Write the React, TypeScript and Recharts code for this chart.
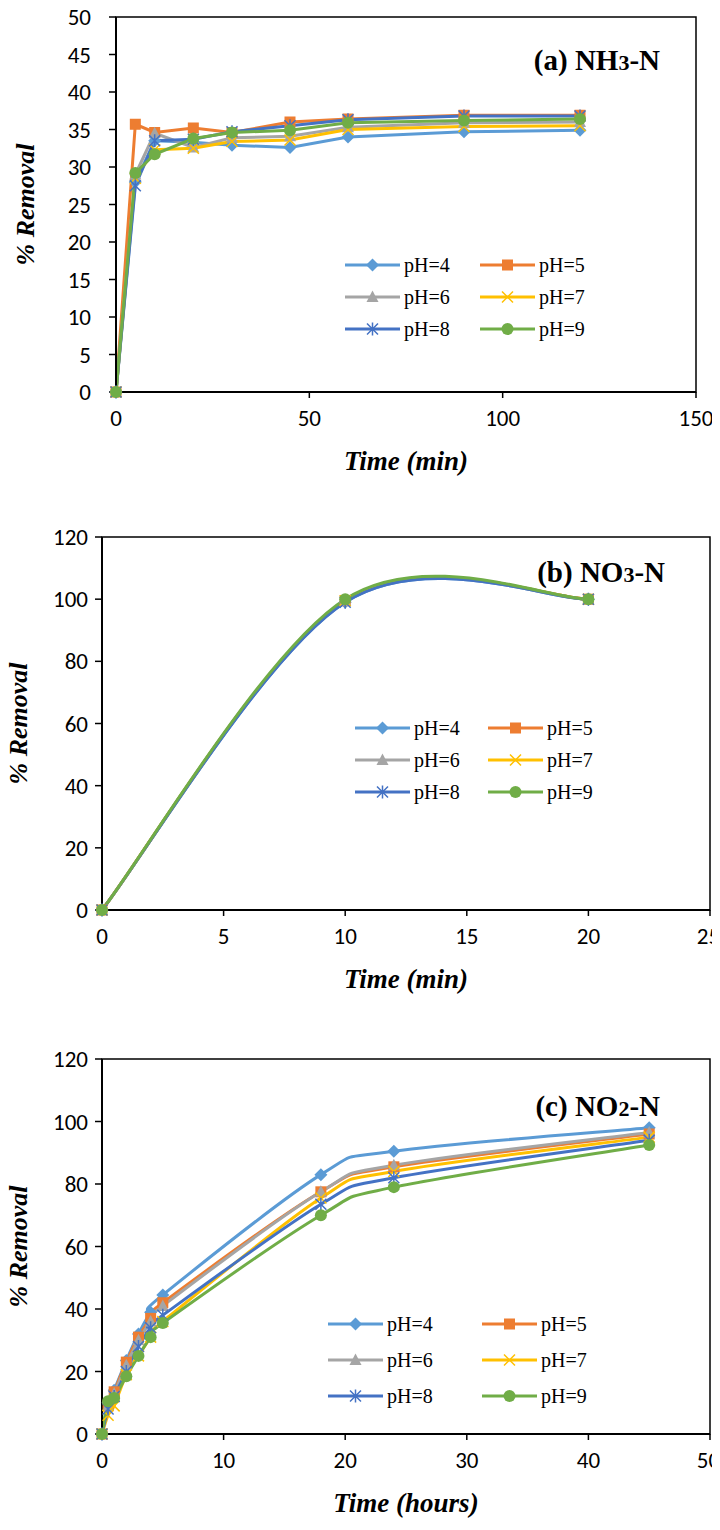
import React from 'react';
import { LineChart, Line, XAxis, YAxis, ReferenceArea, Legend } from 'recharts';

const phNames = ['pH=4', 'pH=5', 'pH=6', 'pH=7', 'pH=8', 'pH=9'];
const phColors = ['#5B9BD5', '#ED7D31', '#A5A5A5', '#FFC000', '#4472C4', '#70AD47'];
const phShapes = ['diamond', 'square', 'triangle', 'x', 'star', 'circle'];

// (a) NH3-N, time in min
const timeA = [0, 5, 10, 20, 30, 45, 60, 90, 120];
const nh3Ph4 = [0, 28, 33.5, 33.3, 32.9, 32.6, 34.0, 34.7, 34.9];
const nh3Ph5 = [0, 35.7, 34.6, 35.2, 34.6, 36.0, 36.4, 36.9, 36.9];
const nh3Ph6 = [0, 29, 34.5, 32.6, 33.9, 34.1, 35.3, 35.9, 36.0];
const nh3Ph7 = [0, 28.5, 32.3, 32.5, 33.4, 33.6, 35.0, 35.4, 35.5];
const nh3Ph8 = [0, 27.5, 33.5, 33.7, 34.7, 35.5, 36.3, 36.8, 36.8];
const nh3Ph9 = [0, 29.2, 31.7, 33.8, 34.6, 34.9, 35.9, 36.2, 36.4];

// (b) NO3-N, time in min
const timeB = [0, 10, 20];
const no3Ph4 = [0, 99, 100];
const no3Ph5 = [0, 99.5, 100];
const no3Ph6 = [0, 99.5, 100];
const no3Ph7 = [0, 99.5, 100];
const no3Ph8 = [0, 99, 100];
const no3Ph9 = [0, 100, 100];

// (c) NO2-N, time in hours
const timeC = [0, 0.5, 1, 2, 3, 4, 5, 18, 24, 45];
const no2Ph4 = [0, 10, 14, 23.5, 32, 39, 44.5, 83, 90.5, 98];
const no2Ph5 = [0, 9, 13.5, 23, 31, 37, 42, 77.5, 85.5, 96];
const no2Ph6 = [0, 9, 13, 22, 30, 36, 41, 77.5, 86, 96.5];
const no2Ph7 = [0, 6, 9, 19, 25, 31, 36, 75.5, 84, 95];
const no2Ph8 = [0, 8, 12, 20, 28, 34, 38, 73.5, 82, 94];
const no2Ph9 = [0, 10.5, 11.5, 18.5, 25, 31, 35.5, 70, 79, 92.5];

const buildRows = (time: number[], cols: number[][]) =>
  time.map((t, i) => {
    const row: Record<string, number> = { t };
    phNames.forEach((n, k) => (row[n] = cols[k][i]));
    return row;
  });

const dataA = buildRows(timeA, [nh3Ph4, nh3Ph5, nh3Ph6, nh3Ph7, nh3Ph8, nh3Ph9]);
const dataB = buildRows(timeB, [no3Ph4, no3Ph5, no3Ph6, no3Ph7, no3Ph8, no3Ph9]);
const dataC = buildRows(timeC, [no2Ph4, no2Ph5, no2Ph6, no2Ph7, no2Ph8, no2Ph9]);

// Excel style smoothed line (bezier, control points at 1/6 of neighbour chord)
function excelCurve(context: any) {
  let pts: number[][] = [];
  return {
    areaStart() {},
    areaEnd() {},
    lineStart() {
      pts = [];
    },
    point(x: number, y: number) {
      pts.push([+x, +y]);
    },
    lineEnd() {
      const n = pts.length;
      if (!n) return;
      context.moveTo(pts[0][0], pts[0][1]);
      for (let i = 0; i < n - 1; i++) {
        const p0 = pts[Math.max(i - 1, 0)];
        const p1 = pts[i];
        const p2 = pts[i + 1];
        const p3 = pts[Math.min(i + 2, n - 1)];
        context.bezierCurveTo(
          p1[0] + (p2[0] - p0[0]) / 6,
          p1[1] + (p2[1] - p0[1]) / 6,
          p2[0] - (p3[0] - p1[0]) / 6,
          p2[1] - (p3[1] - p1[1]) / 6,
          p2[0],
          p2[1]
        );
      }
    },
  };
}

function Marker({ shape, cx, cy, color }: { shape: string; cx: number; cy: number; color: string }) {
  const r = 5.5;
  switch (shape) {
    case 'diamond':
      return <polygon points={`${cx},${cy - r - 1} ${cx + r + 1},${cy} ${cx},${cy + r + 1} ${cx - r - 1},${cy}`} fill={color} />;
    case 'square':
      return <rect x={cx - r} y={cy - r} width={r * 2} height={r * 2} fill={color} />;
    case 'triangle':
      return <polygon points={`${cx},${cy - r - 1} ${cx + r + 0.5},${cy + r - 0.5} ${cx - r - 0.5},${cy + r - 0.5}`} fill={color} />;
    case 'x':
      return (
        <path d={`M${cx - r},${cy - r}L${cx + r},${cy + r}M${cx - r},${cy + r}L${cx + r},${cy - r}`} stroke={color} strokeWidth={1.5} />
      );
    case 'star':
      return (
        <path
          d={`M${cx - r},${cy - r}L${cx + r},${cy + r}M${cx - r},${cy + r}L${cx + r},${cy - r}M${cx},${cy - r - 1}L${cx},${cy + r + 1}`}
          stroke={color}
          strokeWidth={1.5}
        />
      );
    default:
      return <circle cx={cx} cy={cy} r={r + 0.5} fill={color} />;
  }
}

const tickFont = { fontFamily: 'Carlito, Calibri, Lato, sans-serif', fontSize: 23, fill: '#000' };
const serif = '"Times New Roman", "Liberation Serif", serif';

function LegendBlock({ payload, colWidth, rowHeight }: any) {
  return (
    <div style={{ display: 'grid', gridTemplateColumns: `${colWidth}px ${colWidth}px`, rowGap: 0 }}>
      {(payload || []).map((p: any) => {
        const k = phNames.indexOf(p.value);
        return (
          <div key={p.value} style={{ display: 'flex', alignItems: 'center', height: rowHeight }}>
            <svg width={55} height={16}>
              <line x1={0} y1={8} x2={55} y2={8} stroke={phColors[k]} strokeWidth={3} />
              <Marker shape={phShapes[k]} cx={27.5} cy={8} color={phColors[k]} />
            </svg>
            <span style={{ fontFamily: serif, fontSize: 20, marginLeft: 4, color: '#000' }}>{p.value}</span>
          </div>
        );
      })}
    </div>
  );
}

type PanelProps = {
  height: number;
  margin: { top: number; right: number; bottom: number; left: number };
  yWidth: number;
  yTickMargin: number;
  data: Record<string, number>[];
  xMax: number;
  xTicks: number[];
  yMax: number;
  yTicks: number[];
  curve: any;
  xTitle: string;
  yTitleX: number;
  label: string;
  labelSub: string;
  labelRight: number;
  labelTop: number;
  legendLeft: number;
  legendTop: number;
  legendCol: number;
  legendRow: number;
};

function Panel(p: PanelProps) {
  return (
    <LineChart width={720} height={p.height} data={p.data} margin={p.margin}>
      <XAxis
        type="number"
        dataKey="t"
        domain={[0, p.xMax]}
        ticks={p.xTicks}
        height={80}
        tick={tickFont}
        tickSize={6}
        tickMargin={12}
        axisLine={{ stroke: '#000', strokeWidth: 2 }}
        tickLine={{ stroke: '#000', strokeWidth: 1.5 }}
        label={(lp: any) => {
          const vb = lp.viewBox || { x: 0, y: 0, width: 0 };
          return (
            <text
              x={vb.x + vb.width / 2}
              y={vb.y + 78}
              textAnchor="middle"
              fontFamily={serif}
              fontWeight="bold"
              fontStyle="italic"
              fontSize={27}
              fill="#000"
            >
              {p.xTitle}
            </text>
          );
        }}
      />
      <YAxis
        type="number"
        domain={[0, p.yMax]}
        ticks={p.yTicks}
        width={p.yWidth}
        tick={tickFont}
        tickSize={7}
        tickMargin={p.yTickMargin}
        axisLine={{ stroke: '#000', strokeWidth: 2 }}
        tickLine={{ stroke: '#000', strokeWidth: 1.5 }}
        label={(lp: any) => {
          const vb = lp.viewBox || { x: 0, y: 0, height: 0 };
          const cy = vb.y + vb.height / 2;
          return (
            <text
              x={p.yTitleX}
              y={cy}
              transform={`rotate(-90, ${p.yTitleX}, ${cy})`}
              textAnchor="middle"
              fontFamily={serif}
              fontWeight="bold"
              fontStyle="italic"
              fontSize={26}
              fill="#000"
            >
              % Removal
            </text>
          );
        }}
      />
      <ReferenceArea
        x1={0}
        x2={p.xMax}
        y1={0}
        y2={p.yMax}
        fill="none"
        stroke="#000"
        strokeWidth={1.5}
        fillOpacity={0}
        ifOverflow="visible"
        label={(lp: any) => {
          const vb = lp.viewBox || { x: 0, y: 0, width: 0 };
          return (
            <text
              x={vb.x + vb.width - p.labelRight}
              y={vb.y + p.labelTop}
              textAnchor="end"
              fontFamily={serif}
              fontWeight="bold"
              fontSize={29}
              fill="#000"
            >
              {p.label}
              <tspan fontSize={22}>{p.labelSub}</tspan>
              -N
            </text>
          );
        }}
      />
      {phNames.map((name, k) => (
        <Line
          key={name}
          dataKey={name}
          name={name}
          type={p.curve}
          stroke={phColors[k]}
          strokeWidth={3}
          isAnimationActive={false}
          activeDot={false}
          dot={(dp: any) => (
            <Marker key={`${name}-${dp.index}`} shape={phShapes[k]} cx={dp.cx} cy={dp.cy} color={phColors[k]} />
          )}
        />
      ))}
      <Legend
        layout="horizontal"
        verticalAlign="middle"
        align="center"
        wrapperStyle={{ position: 'absolute', left: p.legendLeft, top: p.legendTop, width: p.legendCol * 2 }}
        content={(lp: any) => <LegendBlock payload={lp.payload} colWidth={p.legendCol} rowHeight={p.legendRow} />}
      />
    </LineChart>
  );
}

export default function App() {
  return (
    <div style={{ margin: -8, width: 720, background: '#fff' }}>
      <Panel
        height={520}
        margin={{ top: 17, right: 24, bottom: 48, left: 0 }}
        yWidth={116}
        yTickMargin={18}
        data={dataA}
        xMax={150}
        xTicks={[0, 50, 100, 150]}
        yMax={50}
        yTicks={[0, 5, 10, 15, 20, 25, 30, 35, 40, 45, 50]}
        curve="linear"
        xTitle="Time (min)"
        yTitleX={34}
        label="(a) NH"
        labelSub="3"
        labelRight={36}
        labelTop={53}
        legendLeft={345}
        legendTop={249}
        legendCol={135}
        legendRow={32}
      />
      <Panel
        height={520}
        margin={{ top: 17, right: 10, bottom: 50, left: 0 }}
        yWidth={102}
        yTickMargin={7}
        data={dataB}
        xMax={25}
        xTicks={[0, 5, 10, 15, 20, 25]}
        yMax={120}
        yTicks={[0, 20, 40, 60, 80, 100, 120]}
        curve={excelCurve}
        xTitle="Time (min)"
        yTitleX={27}
        label="(b) NO"
        labelSub="3"
        labelRight={45}
        labelTop={45}
        legendLeft={355}
        legendTop={192}
        legendCol={133}
        legendRow={32}
      />
      <Panel
        height={490}
        margin={{ top: 19, right: 10, bottom: 16, left: 0 }}
        yWidth={102}
        yTickMargin={7}
        data={dataC}
        xMax={50}
        xTicks={[0, 10, 20, 30, 40, 50]}
        yMax={120}
        yTicks={[0, 20, 40, 60, 80, 100, 120]}
        curve={excelCurve}
        xTitle="Time (hours)"
        yTitleX={27}
        label="(c) NO"
        labelSub="2"
        labelRight={50}
        labelTop={57}
        legendLeft={328}
        legendTop={266}
        legendCol={154}
        legendRow={36}
      />
    </div>
  );
}
